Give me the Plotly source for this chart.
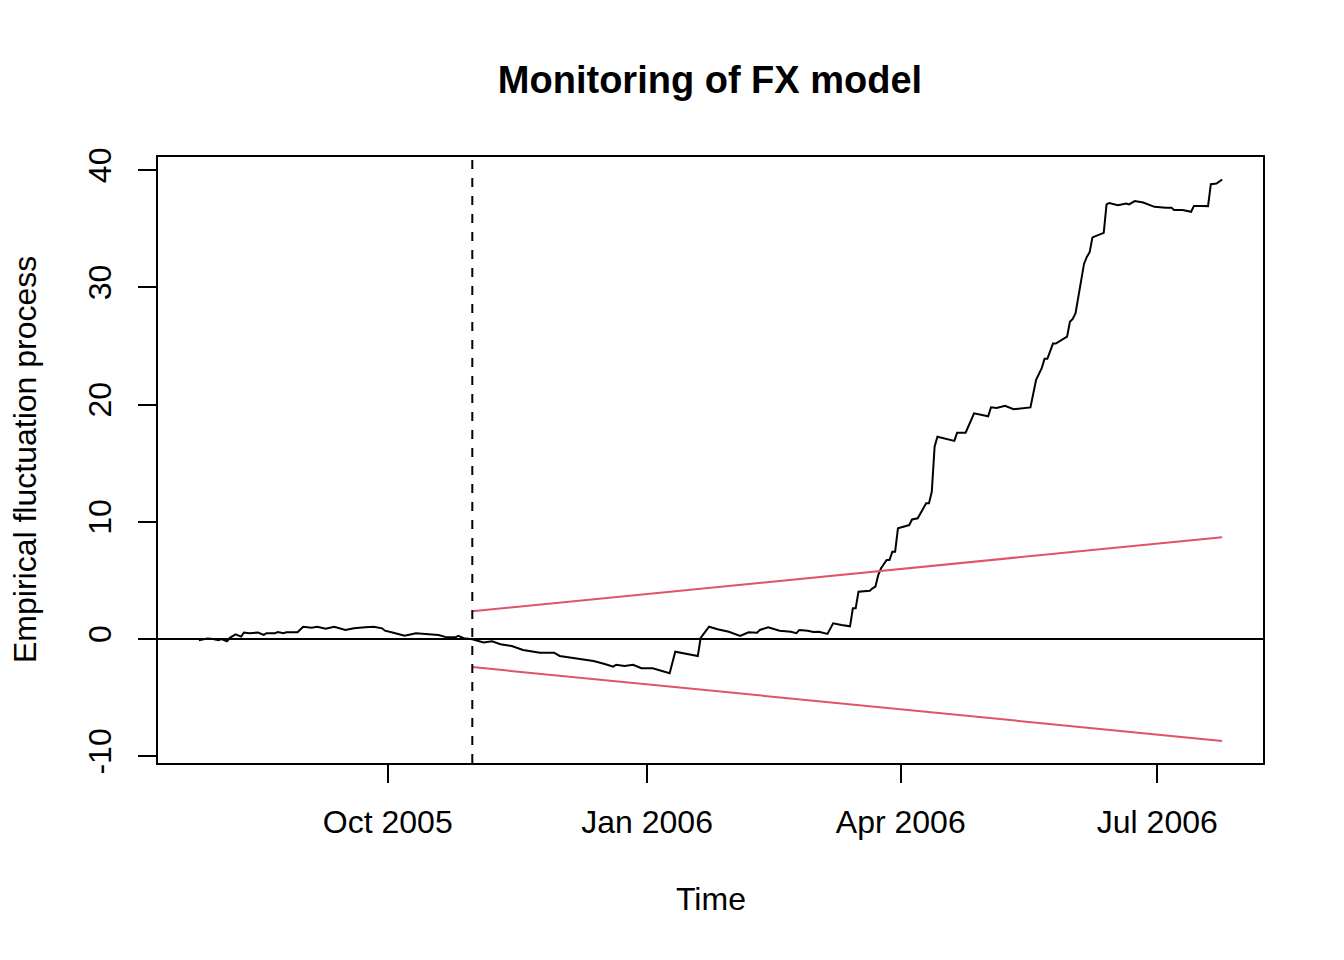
import plotly.graph_objects as go

# empirical fluctuation process
dates = [
    "2005-07-26", "2005-07-29", "2005-07-31", "2005-08-02", "2005-08-03", "2005-08-05",
    "2005-08-06", "2005-08-08", "2005-08-10", "2005-08-11", "2005-08-13", "2005-08-16",
    "2005-08-18", "2005-08-19", "2005-08-22", "2005-08-23", "2005-08-25", "2005-08-26",
    "2005-08-30", "2005-09-01", "2005-09-04", "2005-09-06", "2005-09-09", "2005-09-12",
    "2005-09-16", "2005-09-19", "2005-09-23", "2005-09-26", "2005-09-29", "2005-09-30",
    "2005-10-03", "2005-10-07", "2005-10-11", "2005-10-15", "2005-10-19", "2005-10-22",
    "2005-10-25", "2005-10-26", "2005-10-28", "2005-10-31",
    "2005-11-04", "2005-11-07", "2005-11-10", "2005-11-14", "2005-11-18", "2005-11-24",
    "2005-11-29", "2005-12-01", "2005-12-06", "2005-12-11", "2005-12-13", "2005-12-17",
    "2005-12-20", "2005-12-21", "2005-12-24", "2005-12-27", "2005-12-30", "2006-01-03",
    "2006-01-06", "2006-01-09", "2006-01-11", "2006-01-14", "2006-01-19", "2006-01-20",
    "2006-01-23", "2006-01-26",
    "2006-01-30", "2006-02-03", "2006-02-06", "2006-02-09", "2006-02-10", "2006-02-13",
    "2006-02-17", "2006-02-21", "2006-02-23", "2006-02-24", "2006-02-27", "2006-03-01",
    "2006-03-03", "2006-03-06", "2006-03-08", "2006-03-11", "2006-03-14", "2006-03-15",
    "2006-03-16", "2006-03-17", "2006-03-21", "2006-03-22", "2006-03-23", "2006-03-24",
    "2006-03-25", "2006-03-27", "2006-03-28", "2006-03-29", "2006-03-30", "2006-03-31",
    "2006-04-04", "2006-04-05", "2006-04-07", "2006-04-10", "2006-04-11", "2006-04-12",
    "2006-04-13", "2006-04-14", "2006-04-20", "2006-04-21", "2006-04-24", "2006-04-27",
    "2006-05-02", "2006-05-03", "2006-05-05", "2006-05-08", "2006-05-11", "2006-05-17",
    "2006-05-19", "2006-05-21", "2006-05-22", "2006-05-23", "2006-05-25", "2006-05-26",
    "2006-05-30", "2006-05-31", "2006-06-01", "2006-06-02", "2006-06-05", "2006-06-06",
    "2006-06-07", "2006-06-08", "2006-06-12", "2006-06-13", "2006-06-14", "2006-06-17",
    "2006-06-19", "2006-06-20", "2006-06-21", "2006-06-22", "2006-06-23", "2006-06-26",
    "2006-06-30", "2006-07-04", "2006-07-06", "2006-07-07", "2006-07-10", "2006-07-13",
    "2006-07-14", "2006-07-17", "2006-07-19", "2006-07-20", "2006-07-22", "2006-07-24",
]
process = [
    -0.1, 0.05, 0.0, -0.1, 0.0, -0.2,
    0.1, 0.4, 0.2, 0.55, 0.5, 0.55,
    0.35, 0.5, 0.5, 0.6, 0.5, 0.57,
    0.57, 1.05, 0.97, 1.05, 0.88, 1.05,
    0.77, 0.91, 1.0, 1.05, 0.91, 0.71,
    0.54, 0.28, 0.49, 0.4, 0.34, 0.14,
    0.14, 0.26, 0.06, -0.02,
    -0.3, -0.2, -0.45, -0.6, -0.94, -1.17,
    -1.17, -1.45, -1.65, -1.8, -1.88, -2.13,
    -2.36, -2.2, -2.3, -2.2, -2.5, -2.5,
    -2.73, -2.93, -1.08, -1.22, -1.45, 0.1,
    1.05, 0.83,
    0.62, 0.26, 0.57, 0.54, 0.77, 1.0,
    0.71, 0.62, 0.49, 0.77, 0.71, 0.6,
    0.62, 0.43, 1.34, 1.19, 1.08, 2.62,
    2.62, 4.03, 4.12, 4.32, 4.46, 5.46,
    6.03, 6.74, 6.74, 7.45, 7.45, 9.44,
    9.72, 10.2, 10.3, 11.57, 11.57, 12.56,
    16.4, 17.25, 16.9, 17.6, 17.6, 19.25,
    19.0, 19.76, 19.7, 19.9, 19.6, 19.76,
    22.1, 23.1, 23.9, 23.9, 25.2, 25.2,
    25.8, 27.06, 27.3, 27.8, 32.0, 32.6,
    33.0, 34.26, 34.65, 37.07, 37.2, 37.0,
    37.1, 37.15, 37.07, 37.2, 37.36, 37.24,
    36.87, 36.8, 36.8, 36.6, 36.6, 36.45,
    36.95, 36.95, 36.93, 38.8, 38.86, 39.2,
]

# monitoring boundaries (linear)
bound_dates = ["2005-10-31", "2006-07-24"]
bound_upper = [2.37, 8.68]
bound_lower = [-2.4, -8.7]

monitor_start = "2005-10-31"

tick_dates = ["2005-10-01", "2006-01-01", "2006-04-01", "2006-07-01"]
tick_labels = ["Oct 2005", "Jan 2006", "Apr 2006", "Jul 2006"]
y_ticks = [-10, 0, 10, 20, 30, 40]
y_labels = ["-10", "0", "10", "20", "30", "40"]

red = "#DF536B"
font = "Liberation Sans, Arial, Helvetica, sans-serif"

fig = go.Figure()
fig.add_trace(go.Scatter(x=dates, y=process, mode="lines",
                         line=dict(color="black", width=2)))
fig.add_trace(go.Scatter(x=bound_dates, y=bound_upper, mode="lines",
                         line=dict(color=red, width=2)))
fig.add_trace(go.Scatter(x=bound_dates, y=bound_lower, mode="lines",
                         line=dict(color=red, width=2)))

fig.add_hline(y=0, line=dict(color="black", width=2))
fig.add_vline(x=monitor_start, line=dict(color="black", width=2, dash="dash"))

# page body has an 8px margin, so the figure is 8px smaller on each side
fig.update_layout(
    width=1336, height=952,
    showlegend=False,
    paper_bgcolor="white", plot_bgcolor="white",
    margin=dict(l=150, r=81, t=149, b=197),
    font=dict(family=font, size=32, color="black"),
    title=dict(text="<b>Monitoring of FX model</b>", x=(710 - 8) / 1336, xanchor="center",
               y=1 - 72 / 952, yanchor="middle", yref="container",
               font=dict(size=38)),
    annotations=[
        dict(text="Time", xref="paper", yref="paper", x=0.5, y=0,
             xanchor="center", yanchor="middle", yshift=-136, showarrow=False),
        dict(text="Empirical fluctuation process", xref="paper", yref="paper",
             x=0, y=0.5, xanchor="center", yanchor="middle", xshift=-133,
             textangle=-90, showarrow=False),
    ],
)

fig.update_xaxes(
    type="date", range=["2005-07-11 12:00", "2006-08-07 12:00"],
    tickvals=tick_dates, ticktext=tick_labels, ticklabelstandoff=12,
    ticks="outside", ticklen=18, tickwidth=2, tickcolor="black",
    showgrid=False, zeroline=False,
    showline=True, linewidth=2, linecolor="black", mirror=True,
)
fig.update_yaxes(
    range=[-10.58, 41.12], tickvals=y_ticks, ticktext=y_labels, tickangle=-90,
    ticklabelstandoff=14,
    ticks="outside", ticklen=18, tickwidth=2, tickcolor="black",
    showgrid=False, zeroline=False,
    showline=True, linewidth=2, linecolor="black", mirror=True,
)

fig.write_html("out.html")
